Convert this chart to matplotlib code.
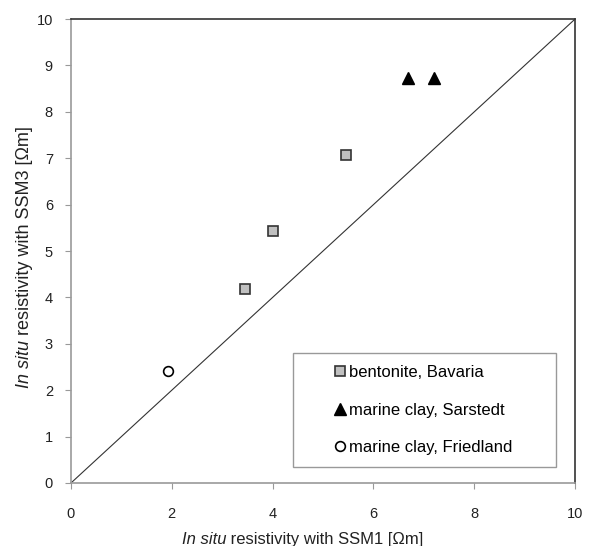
import matplotlib.pyplot as plt
from matplotlib.patches import Rectangle

plt.rcParams['font.family'] = ['Liberation Sans', 'DejaVu Sans']

# bentonite, Bavaria
bent_x = [3.45, 4.01, 5.46]
bent_y = [4.18, 5.43, 7.07]
# marine clay, Sarstedt
sars_x = [6.69, 7.20]
sars_y = [8.73, 8.73]
# marine clay, Friedland
fried_x = [1.92]
fried_y = [2.41]

ticks = [0, 2, 4, 6, 8, 10]
yticks = list(range(11))

fig = plt.figure(figsize=(5.94, 5.46), dpi=100)
ax = fig.add_axes([0.1195, 0.1154, 0.8485, 0.8496])

# 1:1 line
ax.plot([0, 10], [0, 10], color='#333333', lw=0.8, zorder=1)

ax.plot(bent_x, bent_y, ls='none', marker='s', ms=7.5, mfc='#c0c0c0',
        mec='#333333', mew=1.2, label='bentonite, Bavaria', zorder=3)
ax.plot(sars_x, sars_y, ls='none', marker='^', ms=8.5, mfc='black',
        mec='black', label='marine clay, Sarstedt', zorder=3)
ax.plot(fried_x, fried_y, ls='none', marker='o', ms=7, mfc='white',
        mec='black', mew=1.2, label='marine clay, Friedland', zorder=3)

ax.set_xlim(0, 10)
ax.set_ylim(0, 10)
ax.set_xticks(ticks)
ax.set_yticks(yticks)
ax.tick_params(direction='out', length=4, color='#999999', labelsize=10.5,
               labelcolor='#222222')
ax.tick_params(axis='y', pad=9)
ax.tick_params(axis='x', pad=13)

for s in ['left', 'bottom']:
    ax.spines[s].set_color('#999999')
for s in ['top', 'right']:
    ax.spines[s].set_color('#333333')
for s in ax.spines.values():
    s.set_linewidth(1.2)

# axis titles: italic "In situ" followed by upright rest
xlab = dict(fontsize=12, color='#222222')
xl = ax.text(0.22, -0.131, 'In situ', style='italic', ha='left', va='baseline',
             transform=ax.transAxes, **xlab)
ax.annotate(' resistivity with SSM1 [\u03a9m]', xy=(1, 0), xycoords=xl,
            ha='left', va='bottom', **xlab)
ylab = dict(fontsize=13, color='#222222')
yl = ax.text(-0.092, 0.205, 'In situ', style='italic', rotation=90, ha='center',
             va='bottom', transform=ax.transAxes, **ylab)
ax.annotate(' resistivity with SSM3 [\u03a9m]', xy=(0, 1), xycoords=yl,
            ha='left', va='bottom', rotation=90, **ylab)

# legend box
ax.add_patch(Rectangle((0.44, 0.034), 0.522, 0.246, transform=ax.transAxes,
                       fill=True, facecolor='white', edgecolor='#999999',
                       lw=1.0, zorder=4))
leg = ax.legend(loc='center', bbox_to_anchor=(0.7, 0.157), frameon=False,
                fontsize=12, handlelength=0.6, handletextpad=0.2,
                labelspacing=1.35, borderaxespad=0)
leg.set_zorder(5)

fig.savefig('out.png', dpi=100)
